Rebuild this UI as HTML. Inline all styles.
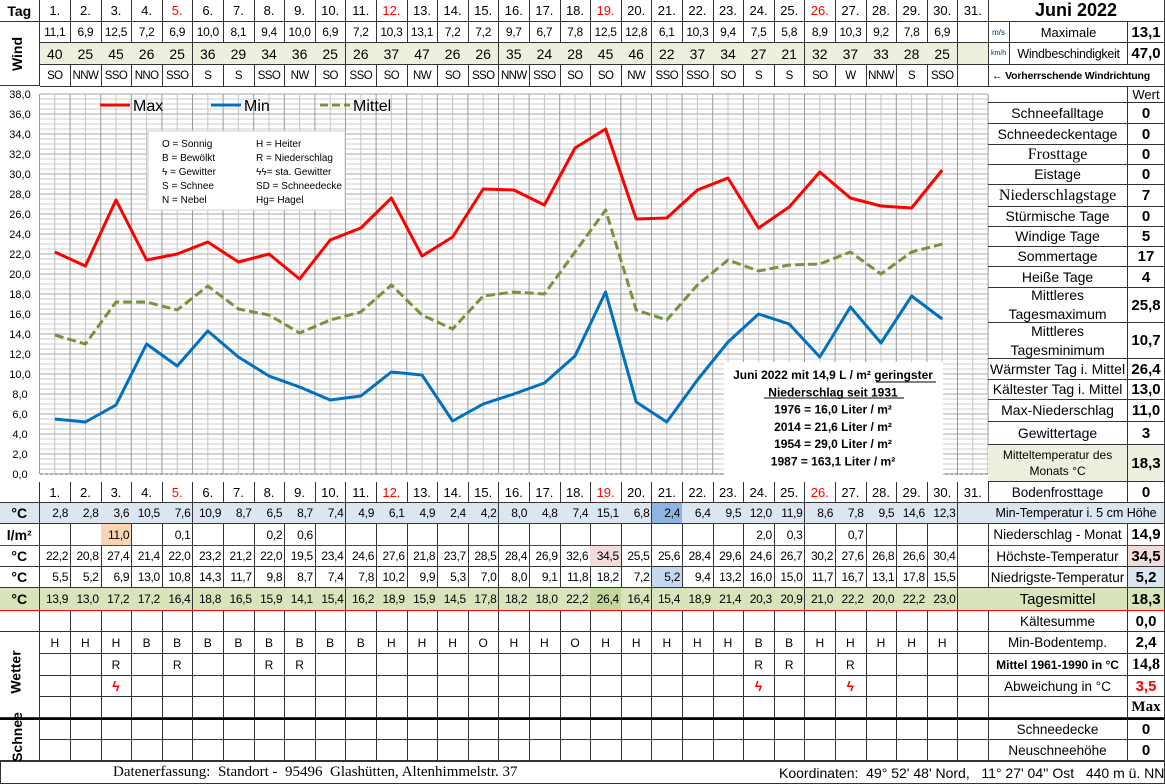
<!DOCTYPE html>
<html><head><meta charset="utf-8">
<style>
body{margin:0;width:1165px;height:784px;position:relative;overflow:hidden;background:#fff;font-family:"Liberation Sans",sans-serif;color:#000}
.c{position:absolute;box-sizing:border-box;display:flex;align-items:center;justify-content:center;white-space:nowrap;border-right:1px solid #333;border-bottom:1px solid #333;font-size:12px}
.r{justify-content:flex-end;padding-right:2px}
.rot{position:absolute;transform:rotate(-90deg);font-weight:bold;font-size:14px;white-space:nowrap}
.serif{font-family:"Liberation Serif",serif}
</style></head>
<body>
<svg id="chart" style="position:absolute;left:0;top:0" width="1165" height="784"></svg>
<div id="root"></div>
<script>
const days=[1,2,3,4,5,6,7,8,9,10,11,12,13,14,15,16,17,18,19,20,21,22,23,24,25,26,27,28,29,30,31];
const sundays=[5,12,19,26];
const windMax=[11.1,6.9,12.5,7.2,6.9,10.0,8.1,9.4,10.0,6.9,7.2,10.3,13.1,7.2,7.2,9.7,6.7,7.8,12.5,12.8,6.1,10.3,9.4,7.5,5.8,8.9,10.3,9.2,7.8,6.9];
const windGust=[40,25,45,26,25,36,29,34,36,25,26,37,47,26,26,35,24,28,45,46,22,37,34,27,21,32,37,33,28,25];
const windDir=["SO","NNW","SSO","NNO","SSO","S","S","SSO","NW","SO","SSO","SO","NW","SO","SSO","NNW","SSO","SO","SO","NW","SSO","SSO","SO","S","S","SO","W","NNW","S","SSO"];
const tMax=[22.2,20.8,27.4,21.4,22.0,23.2,21.2,22.0,19.5,23.4,24.6,27.6,21.8,23.7,28.5,28.4,26.9,32.6,34.5,25.5,25.6,28.4,29.6,24.6,26.7,30.2,27.6,26.8,26.6,30.4];
const tMin=[5.5,5.2,6.9,13.0,10.8,14.3,11.7,9.8,8.7,7.4,7.8,10.2,9.9,5.3,7.0,8.0,9.1,11.8,18.2,7.2,5.2,9.4,13.2,16.0,15.0,11.7,16.7,13.1,17.8,15.5];
const tMean=[13.9,13.0,17.2,17.2,16.4,18.8,16.5,15.9,14.1,15.4,16.2,18.9,15.9,14.5,17.8,18.2,18.0,22.2,26.4,16.4,15.4,18.9,21.4,20.3,20.9,21.0,22.2,20.0,22.2,23.0];
const tGround=[2.8,2.8,3.6,10.5,7.6,10.9,8.7,6.5,8.7,7.4,4.9,6.1,4.9,2.4,4.2,8.0,4.8,7.4,15.1,6.8,2.4,6.4,9.5,12.0,11.9,8.6,7.8,9.5,14.6,12.3];
const precip=[null,null,11.0,null,0.1,null,null,0.2,0.6,null,null,null,null,null,null,null,null,null,null,null,null,null,null,2.0,0.3,null,0.7,null,null,null];
const wx1=["H","H","H","B","B","B","B","B","B","B","B","H","H","H","O","H","H","O","H","H","H","H","H","B","B","H","H","H","H","H"];
const wxRain=[3,5,8,9,24,25,27];
const wxStorm=[3,24,27];
const yTicks=[0,2,4,6,8,10,12,14,16,18,20,22,24,26,28,30,32,34,36,38];

const X0=39.5,CW=30.6;
const colX=i=>X0+CW*i;
const root=document.getElementById('root');
function cell(name,x,y,w,h,txt,cls,style){
  const el=document.createElement('div');
  el.className='c '+(cls||'');
  el.style.left=x+'px';el.style.top=y+'px';el.style.width=w+'px';el.style.height=h+'px';
  if(style) el.style.cssText+=style;
  el.textContent=txt==null?'':txt;
  
  
  root.appendChild(el);return el;
}
const fmt=v=>v==null?'':v.toFixed(1).replace('.',',');

cell('tag-label',0,0,X0,22,'Tag','', 'font-weight:bold;font-size:14px');
cell('wind-label-cell',0,22,X0,64,'');
const w=document.createElement('div');w.className='rot';w.textContent='Wind';w.style.left='0px';w.style.top='46px';


root.appendChild(w);
days.forEach((d,i)=>{
  const red=sundays.includes(d);
  cell('day-header-'+d,colX(i),0,CW+1,22,d+'.','', 'font-size:13px;'+(red?'color:#f00':''));
  cell('wind-max-'+d,colX(i),22,CW+1,21,i<30?fmt(windMax[i]):'','','font-size:12px;letter-spacing:-0.3px');
  cell('wind-gust-'+d,colX(i),43,CW+1,22,i<30?windGust[i]:'','','background:#ebf1de;font-size:14px');
  cell('wind-dir-'+d,colX(i),65,CW+1,22,i<30?windDir[i]:'','','font-size:11.5px;letter-spacing:-0.6px');
});
const RX=colX(31);
cell('month-title',RX,0,1165-RX,22,'Juni 2022','','font-weight:bold;font-size:18px');
cell('unit-ms',RX,22,22,21,'m/s','','font-size:8px;color:#036');
cell('max-label',RX+22,22,1128-RX-22,21,'Maximale','','font-size:13px');
cell('max-wind-value',1128,22,37,21,'13,1','','font-weight:bold;font-size:15px');
cell('unit-kmh',RX,43,22,22,'km/h','','font-size:7px;color:#036');
cell('gust-label',RX+22,43,1128-RX-22,22,'Windbeschindigkeit','','font-size:12.5px;letter-spacing:-0.3px');
cell('max-gust-value',1128,43,37,22,'47,0','','font-weight:bold;font-size:15px');
cell('wind-dir-note',RX,65,1165-RX,22,'← Vorherrschende Windrichtung','','font-weight:bold;font-size:10.5px;justify-content:flex-start;padding-left:4px;letter-spacing:-0.2px');

cell('wert-header',1128,87,37,16,'Wert','','font-size:13px');
cell('wert-blank',RX,87,1128-RX,16,'','','border-right:1px solid #333');
const stats=[["Schneefalltage","0",103,124,""],["Schneedeckentage","0",124,145,""],["Frosttage","0",145,165,"serif"],["Eistage","0",165,185,""],["Niederschlagstage","7",185,207,"serif"],["Stürmische Tage","0",207,227,""],["Windige Tage","5",227,247,""],["Sommertage","17",247,267,""],["Heiße Tage","4",267,288,""],["Mittleres<br>Tagesmaximum","25,8",288,323,""],["Mittleres<br>Tagesminimum","10,7",323,359,""],["Wärmster Tag i. Mittel","26,4",359,380,""],["Kältester Tag i. Mittel","13,0",380,400,""],["Max-Niederschlag","11,0",400,422,""],["Gewittertage","3",422,445,""],["Mitteltemperatur des<br>Monats °C","18,3",445,482,"green"]];
stats.forEach((s,k)=>{
  const bg=s[4]=='green'?'background:#ebf1de;':'';
  const fs=s[4]=='green'?12:(s[4]=='serif'?16:14);
  const l=cell('stat-label-'+k,RX,s[2],1128-RX,s[3]-s[2],'',s[4]=='serif'?'serif':'',bg+'font-size:'+fs+'px;line-height:1.35;text-align:center;white-space:normal');
  l.innerHTML=s[0];
  cell('stat-value-'+k,1128,s[2],37,s[3]-s[2],s[1],'',bg+'font-weight:bold;font-size:15px');
});

const lbl=['','°C','l/m²','°C','°C','°C'];
const rows=[[482,503],[503,524],[524,546],[546,567],[567,588],[588,611]];
for(let r=0;r<6;r++) cell('row-unit-'+r,0,rows[r][0],X0,rows[r][1]-rows[r][0],lbl[r],'','font-weight:bold;font-size:14px;'+(r==1?'background:#dce6f1;':'')+(r==5?'background:#d8e4bc;':''));
cell('blank-label',0,611,X0,21,'');
cell('wetter-label-cell',0,632,X0,86,'');
cell('schnee-label-cell',0,718,X0,43,'','','border-top:2px solid #000');
[['wetter-label','Wetter',664],['schnee-label','Schnee',729]].forEach(a=>{
  const e=document.createElement('div');e.className='rot';e.textContent=a[1];e.style.left=(a[1]=='Wetter'?-6:-8)+'px';e.style.top=a[2]+'px';
  
  
  root.appendChild(e);
});
days.forEach((d,i)=>{
  const x=colX(i),red=sundays.includes(d);
  cell('bottom-day-'+d,x,482,CW+1,21,d+'.','','font-size:13px;'+(red?'color:#f00':''));
  let bg=i==20?'#8eb4e3':'#dce6f1';
  const ls='letter-spacing:-0.3px;';
  cell('ground-min-'+d,x,503,CW+1,21,i<30?fmt(tGround[i]):'','r',ls+'background:'+bg);
  cell('precip-'+d,x,524,CW+1,22,i<30?fmt(precip[i]):'','r',ls+(i==2?'background:#fbd4b4':''));
  cell('tmax-'+d,x,546,CW+1,21,i<30?fmt(tMax[i]):'','r',ls+(i==18?'background:#f2dcdb':''));
  cell('tmin-'+d,x,567,CW+1,21,i<30?fmt(tMin[i]):'','r',ls+(i==20?'background:#c5d9f1':''));
  cell('tmean-'+d,x,588,CW+1,23,i<30?fmt(tMean[i]):'','r',ls+'background:'+(i==18?'#c4d79b':'#d8e4bc'));
  cell('blank-'+d,x,611,CW+1,21,'');
  cell('wx-'+d,x,632,CW+1,22,i<30?wx1[i]:'');
  cell('wx-rain-'+d,x,654,CW+1,22,wxRain.includes(d)?'R':'');
  cell('wx-storm-'+d,x,676,CW+1,21,wxStorm.includes(d)?'ϟ':'','','color:#f00;font-weight:bold;font-size:14px');
  cell('wx-extra-'+d,x,697,CW+1,21,'');
  cell('snow-depth-'+d,x,718,CW+1,22,'','','border-top:2px solid #000');
  cell('snow-new-'+d,x,740,CW+1,21,'');
});
const rp=[["Bodenfrosttage","0",482,503,""],["Min-Temperatur i. 5 cm Höhe","",503,524,"blue"],["Niederschlag - Monat","14,9",524,546,""],["Höchste-Temperatur","34,5",546,567,"pink"],["Niedrigste-Temperatur","5,2",567,588,"lb"],["Tagesmittel","18,3",588,611,"green"],["Kältesumme","0,0",611,632,""],["Min-Bodentemp.","2,4",632,654,""],["Mittel 1961-1990 in °C","14,8",654,676,"bold"],["Abweichung in °C","3,5",676,697,"red"],["","Max",697,718,"max"],["Schneedecke","0",718,740,""],["Neuschneehöhe","0",740,761,""]];
rp.forEach((s,k)=>{
  if(s[4]=='blue'){cell('right-label-'+k,RX,s[2],1165-RX,s[3]-s[2],s[0],'','background:#dce6f1;font-size:12.5px');return;}
  const lb=s[4]=='green'?'background:#d8e4bc;font-size:15px;':'font-size:13.5px;';
  cell('right-label-'+k,RX,s[2],1128-RX,s[3]-s[2],s[0],'',lb+(s[4]=='bold'?'font-weight:bold;font-size:12px;':'')+(k==11?'border-top:2px solid #000;':''));
  let vb='font-weight:bold;font-size:15px;';
  if(s[4]=='pink')vb+='background:#f2dcdb;';
  if(s[4]=='lb')vb+='background:#dce6f1;';
  if(s[4]=='green')vb+='background:#d8e4bc;';
  if(s[4]=='red')vb+='color:#f00;';
  if(s[4]=='max')vb+='font-family:"Liberation Serif",serif;';
  if(s[4]=='bold')vb+='font-family:"Liberation Serif",serif;font-size:16px;';
  cell('right-value-'+k,1128,s[2],37,s[3]-s[2],s[1],'',vb+(k==11?'border-top:2px solid #000;':''));
});
[546,611].forEach((y,k)=>{const e=document.createElement('div');e.style.cssText='position:absolute;left:0;width:1165px;height:1px;background:#f00;top:'+(y-1)+'px';


root.appendChild(e);});
const f=cell('footer',0,761,1165,23,'','','justify-content:flex-start;border:1px solid #333');
f.innerHTML='<span class="serif" style="position:absolute;left:112px;font-size:15px">Datenerfassung:&nbsp; Standort -&nbsp; 95496&nbsp; Glashütten, Altenhimmelstr. 37</span><span style="position:absolute;left:778px;font-size:14px">Koordinaten:&nbsp; 49° 52\' 48\' Nord,&nbsp;&nbsp; 11° 27\' 04\'\' Ost&nbsp;&nbsp; 440 m ü. NN</span>';

const NS='http://www.w3.org/2000/svg';
const svg=document.getElementById('chart');
const yS=v=>474-10*v;
const xS=i=>X0+CW*(i+0.5);
function mk(tag,attrs,name){const e=document.createElementNS(NS,tag);for(const k in attrs)e.setAttribute(k,attrs[k]);


svg.appendChild(e);return e;}
for(let v=0;v<=38;v+=0.5){mk('line',{x1:40,x2:988,y1:yS(v),y2:yS(v),stroke:Number.isInteger(v/2)?'#a6a6a6':'#cccccc','stroke-width':1},'grid-h');}
for(let i=0;i<=62;i++){const x=X0+CW*i/2;mk('line',{x1:x,x2:x,y1:yS(38),y2:yS(0),stroke:i%2?'#c4c4c4':'#999999','stroke-width':1},'grid-v');}
mk('line',{x1:40,x2:988,y1:yS(0),y2:yS(0),stroke:'#666','stroke-dasharray':'3,2'},'x-axis');
yTicks.forEach(t=>{const e=mk('text',{x:20,y:yS(t)+4,'text-anchor':'middle','font-size':11,'font-family':'Liberation Sans'},'y-tick-label');e.textContent=t.toFixed(1).replace('.',',');});
function series(arr,color,dash,name){
  const pts=arr.map((v,i)=>xS(i).toFixed(1)+','+yS(v).toFixed(1)).join(' ');
  const a={points:pts,fill:'none',stroke:color,'stroke-width':3,'stroke-linejoin':'round'};
  if(dash)a['stroke-dasharray']=dash;
  mk('polyline',a,name);
}
series(tMean,'#77933c','9,4','mean-line');
series(tMin,'#0070c0',null,'min-line');
series(tMax,'#ff0000',null,'max-line');
[['Max','#ff0000',100,null],['Min','#0070c0',211,null],['Mittel','#77933c',320,'8,4']].forEach(l=>{
  const a={x1:l[2],x2:l[2]+30,y1:105,y2:105,stroke:l[1],'stroke-width':3};if(l[3])a['stroke-dasharray']=l[3];
  mk('line',a,'legend-line-'+l[0].toLowerCase());
  const t=mk('text',{x:l[2]+33,y:111,'font-size':16,'font-family':'Liberation Sans'},'legend-entry-'+l[0].toLowerCase());t.textContent=l[0];
});
mk('rect',{x:148,y:131,width:197,height:79,fill:'#fff',stroke:'#d0d0d0'},'weather-key-box');
const key=[['O = Sonnig','H = Heiter'],['B = Bewölkt','R = Niederschlag'],['ϟ = Gewitter','ϟϟ= sta. Gewitter'],['S = Schnee','SD = Schneedecke'],['N = Nebel','Hg= Hagel']];
key.forEach((r,k)=>{r.forEach((s,j)=>{const t=mk('text',{x:j?256:162,y:147+k*14,'font-size':10,'font-family':'Liberation Sans'},'weather-key-entry');t.textContent=s;});});
mk('rect',{x:724,y:362,width:219,height:114,fill:'#fff'},'precip-note-box');
const note=['Juni 2022 mit 14,9 L / m² geringster','Niederschlag  seit 1931','1976 = 16,0 Liter / m²','2014 =  21,6 Liter / m²','1954 = 29,0 Liter / m²','1987 = 163,1 Liter / m²'];
note.forEach((s,k)=>{const t=mk('text',{x:833,y:379+k*17.3,'text-anchor':'middle','font-size':12,'font-weight':'bold','font-family':'Liberation Sans'},'precip-note-line');t.textContent=s;});
mk('line',{x1:764,x2:904,y1:398,y2:398,stroke:'#000'},'note-underline');
mk('line',{x1:876,x2:936,y1:382,y2:382,stroke:'#000'},'note-underline-2');
</script>
</body></html>
